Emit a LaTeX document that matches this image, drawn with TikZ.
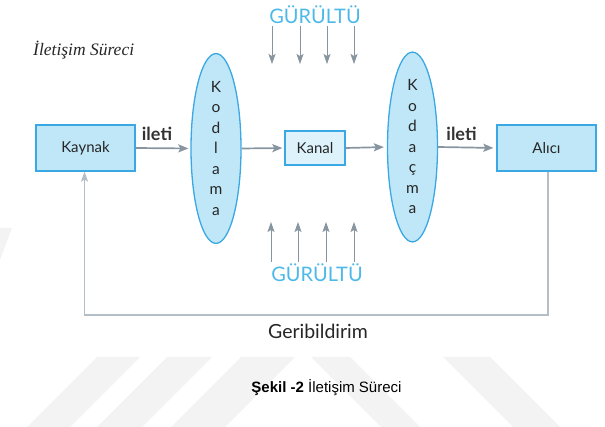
\documentclass[tikz,border=0pt]{standalone}
\usepackage{fontspec}
\setmainfont{Lato}
\newfontfamily\capfont{Liberation Sans}
\newfontfamily\titfont{Liberation Serif}
\usetikzlibrary{shapes.geometric,arrows.meta}
\definecolor{boxfill}{HTML}{BFE7F8}
\definecolor{kanalfill}{HTML}{DDF2FB}
\definecolor{boxline}{HTML}{3AA8E2}
\definecolor{arrowgray}{HTML}{8795A0}
\definecolor{fbgray}{HTML}{B3BEC6}
\definecolor{noiseblue}{HTML}{4DB9E8}
\definecolor{wmark}{HTML}{F3F3F3}
\tikzset{
  box/.style={draw=boxline, line width=1.3pt, fill=boxfill, minimum width=99pt, minimum height=46pt, inner sep=0pt, font=\fontsize{15}{17}\selectfont, text=black!85},
  ell/.style={ellipse, draw=boxline, line width=1.3pt, fill=boxfill, minimum width=50pt, minimum height=167pt, inner sep=0pt, align=center, font=\fontsize{15.5}{20.5}\selectfont, text=black!85},
  flow/.style={draw=arrowgray, line width=1.7pt, -{Stealth[length=10pt,width=8pt,inset=2pt]}},
  noisearrow/.style={draw=arrowgray, line width=0.9pt, -{Stealth[length=10pt,width=7pt,inset=2pt]}},
  fbline/.style={draw=fbgray, line width=1.3pt},
  lbl/.style={font=\fontsize{18}{20}\selectfont\bfseries, text=black!80, inner sep=0pt},
  noise/.style={font=\fontsize{20}{22}\selectfont, text=noiseblue, inner sep=0pt},
}
\begin{document}
\begin{tikzpicture}[x=1pt,y=-1pt]
\useasboundingbox (0,0) rectangle (605,427);
% faint watermark
\fill[wmark] (97,357) -- (140,357) -- (70,427) -- (27,427) -- cycle;
\fill[wmark] (167,357) -- (212,357) -- (142,427) -- (97,427) -- cycle;
\fill[wmark] (241,357) -- (295,357) -- (225,427) -- (171,427) -- cycle;
\fill[wmark] (311,357) -- (350,357) -- (420,427) -- (381,427) -- cycle;
\fill[wmark] (443,357) -- (490,357) -- (560,427) -- (513,427) -- cycle;
\fill[wmark] (0,228) -- (12,228) -- (0,260) -- cycle;

% title
\node[font=\titfont\itshape\fontsize{17.5}{19}\selectfont, text=black!85, anchor=west, inner sep=0pt] (title) at (33,50) {İletişim Süreci};

% main nodes
\node[box] (kaynak) at (85.5,148) {Kaynak};
\node[ell] (kodlama) at (216,148.5) {K\\o\\d\\l\\a\\m\\a};
\node[box, fill=kanalfill, minimum width=60pt, minimum height=34pt] (kanal) at (315,148) {Kanal};
\node[ell] (kodacma) at (412.5,147) {K\\o\\d\\a\\ç\\m\\a};
\node[box] (alici) at (546.5,148) {Alıcı};

% flow arrows
\draw[flow, shorten >=2pt] (kaynak.east) -- (kodlama.west);
\draw[flow, shorten >=2pt] (kodlama.east) -- (kanal.west);
\draw[flow, shorten >=3pt] (kanal.east) -- (kodacma.west);
\draw[flow, shorten >=3pt] (kodacma.east) -- (alici.west);
\node[lbl] (ileti1) at (157,134) {ileti};
\node[lbl] (ileti2) at (461.5,134) {ileti};

% noise top
\node[noise] (gtop) at (315,15) {GÜRÜLTÜ};
\foreach \i/\x in {1/272,2/300,3/327,4/354}{
  \coordinate (ta\i) at (\x,26);
  \coordinate (tb\i) at (\x,64);
  \draw[noisearrow] (ta\i) -- (tb\i);
}
% noise bottom
\node[noise] (gbot) at (317,273) {GÜRÜLTÜ};
\foreach \i/\x in {1/271,2/298,3/326,4/354}{
  \coordinate (ba\i) at (\x,262);
  \coordinate (bb\i) at (\x,222);
  \draw[noisearrow] (ba\i) -- (bb\i);
}

% feedback
\coordinate (fr) at (548,315);
\coordinate (fl) at (84.5,315);
\draw[fbline, -{Stealth[length=10pt,width=7pt,inset=2pt]}] (alici.south -| fr) -- (fr) -- (fl) -- (fl |- kaynak.south);
\node[font=\fontsize{19.5}{21}\selectfont, text=black!85, inner sep=0pt] (geri) at (318,331) {Geribildirim};

% caption
\node[font=\capfont\fontsize{15}{17}\selectfont, text=black, inner sep=0pt] (cap) at (326.5,388) {\textbf{Şekil -2} İletişim Süreci};
\end{tikzpicture}
\end{document}
